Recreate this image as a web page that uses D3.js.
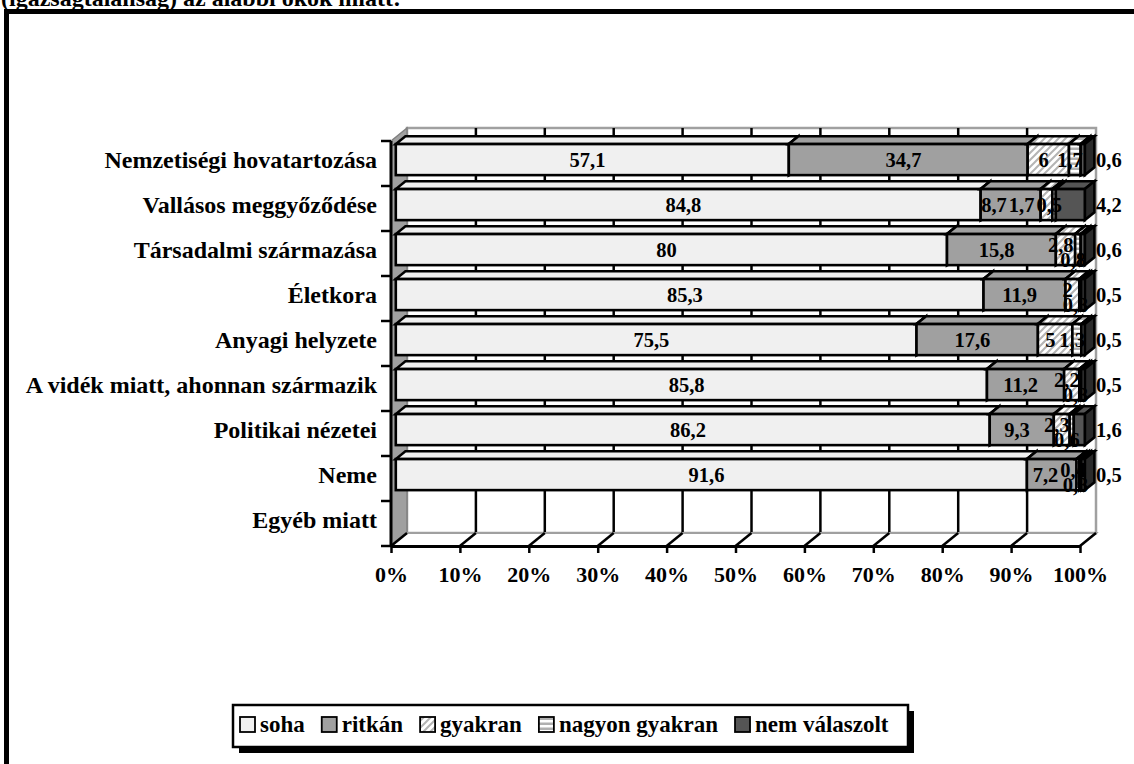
<!DOCTYPE html>
<html>
<head>
<meta charset="utf-8">
<script src="https://cdn.jsdelivr.net/npm/d3@7"></script>
<style>
  body { margin: 0; background: #fff; }
  svg { display: block; font-family: "Times New Roman", "Liberation Serif", serif; font-weight: bold; }
</style>
</head>
<body>
<div id="chart"></div>
<script>
let width  = 1134,
    height = 764;

let title = "(igazságtalanság) az alábbi okok miatt:";

let categories = [
  "Nemzetiségi hovatartozása",
  "Vallásos meggyőződése",
  "Társadalmi származása",
  "Életkora",
  "Anyagi helyzete",
  "A vidék miatt, ahonnan származik",
  "Politikai nézetei",
  "Neme",
  "Egyéb miatt"
];

let seriesNames   = ["soha", "ritkán", "gyakran", "nagyon gyakran", "nem válaszolt"];
let soha          = [57.1, 84.8, 80,   85.3, 75.5, 85.8, 86.2, 91.6, 0];
let ritkan        = [34.7,  8.7, 15.8, 11.9, 17.6, 11.2,  9.3,  7.2, 0];
let gyakran       = [6,     1.7,  2.8,  2,    5,    2.2,  2.3,  0.4, 0];
let nagyonGyakran = [1.7,   0.5,  0.8,  0.3,  1.3,  0.3,  0.6,  0.3, 0];
let nemValaszolt  = [0.6,   4.2,  0.6,  0.5,  0.5,  0.5,  1.6,  0.5, 0];
let tickValues    = [0, .1, .2, .3, .4, .5, .6, .7, .8, .9, 1];

let rows = categories.map(function(c, i) {
  return {
    category: c,
    "soha": soha[i],
    "ritkán": ritkan[i],
    "gyakran": gyakran[i],
    "nagyon gyakran": nagyonGyakran[i],
    "nem válaszolt": nemValaszolt[i]
  };
});

// 3d look: depth of the plot and where the bars sit inside it
let DX = 16, DY = -13, f0 = 0.3, f1 = 0.9;

let x = d3.scaleLinear().domain([0, 1]).range([391, 1080]);
let y = d3.scaleBand().domain(categories).range([141, 546])
          .paddingInner(0.31).paddingOuter(0.155);

let fills = {
  "soha": "#f0f0f0",
  "ritkán": "#a0a0a0",
  "gyakran": "url(#hatch)",
  "nagyon gyakran": "url(#hstripe)",
  "nem válaszolt": "#555555"
};
let sideFills = {
  "soha": "#d4d4d4",
  "ritkán": "#808080",
  "gyakran": "url(#hatch)",
  "nagyon gyakran": "url(#hstripe)",
  "nem válaszolt": "#2a2a2a"
};

let svg = d3.select("#chart").append("svg")
    .attr("width", width)
    .attr("height", height);

let defs = svg.append("defs");
let hatch = defs.append("pattern").attr("id", "hatch")
    .attr("patternUnits", "userSpaceOnUse").attr("width", 7).attr("height", 7);
hatch.append("rect").attr("width", 7).attr("height", 7).attr("fill", "#fff");
hatch.append("path").attr("d", "M-1,8 L8,-1 M-2,2 L2,-2 M5,9 L9,5")
    .attr("stroke", "#b4b4b4").attr("stroke-width", 2);
let hs = defs.append("pattern").attr("id", "hstripe")
    .attr("patternUnits", "userSpaceOnUse").attr("width", 6).attr("height", 5);
hs.append("rect").attr("width", 6).attr("height", 5).attr("fill", "#fff");
hs.append("rect").attr("y", 2.5).attr("width", 6).attr("height", 2.5).attr("fill", "#b0b0b0");

// title (cut by the top of the page)
svg.append("text")
    .attr("x", 1).attr("y", 6)
    .attr("font-size", 24)
    .text(title);

// outer frame
svg.append("rect")
    .attr("x", 6.5).attr("y", 11.5)
    .attr("width", 1300).attr("height", 1000)
    .attr("fill", "none").attr("stroke", "#000").attr("stroke-width", 5);

let y0 = y.range()[0], y1 = y.range()[1];

// back wall
svg.append("rect")
    .attr("x", x(0) + DX).attr("y", y0 + DY)
    .attr("width", x(1) - x(0)).attr("height", y1 - y0)
    .attr("fill", "#fff").attr("stroke", "#a0a0a0").attr("stroke-width", 2.5);

svg.append("g").selectAll("line")
    .data(tickValues.filter(function(t) { return t > 0 && t < 1; }))
    .enter().append("line")
    .attr("x1", function(t) { return x(t) + DX; })
    .attr("x2", function(t) { return x(t) + DX; })
    .attr("y1", y0 + DY).attr("y2", y1 + DY)
    .attr("stroke", "#000").attr("stroke-width", 2.5);

// side wall
svg.append("path")
    .attr("d", d3.line()([[x(0), y0], [x(0) + DX, y0 + DY], [x(0) + DX, y1 + DY], [x(0), y1]]) + "Z")
    .attr("fill", "#a0a0a0").attr("stroke", "#808080").attr("stroke-width", 1.5);

// floor
svg.append("path")
    .attr("d", d3.line()([[x(0), y1], [x(0) + DX, y1 + DY], [x(1) + DX, y1 + DY], [x(1), y1]]) + "Z")
    .attr("fill", "#fff").attr("stroke", "#a0a0a0").attr("stroke-width", 2);

svg.append("g").selectAll("line")
    .data(tickValues)
    .enter().append("line")
    .attr("x1", function(t) { return x(t); })
    .attr("x2", function(t) { return x(t) + DX; })
    .attr("y1", y1).attr("y2", y1 + DY)
    .attr("stroke", "#000").attr("stroke-width", 2.5);

// bars
let stack = d3.stack().keys(seriesNames).offset(d3.stackOffsetExpand);
let series = stack(rows);

let sx = DX * f0, sy = DY * f0,
    ddx = DX * (f1 - f0), ddy = DY * (f1 - f0),
    bw = y.bandwidth();

let segs = [];
categories.forEach(function(c, i) {
  series.forEach(function(s) {
    let d = s[i];
    if (d[1] - d[0] <= 0) return;
    segs.push({ key: s.key, i: i, cat: c, v0: d[0], v1: d[1], raw: d.data[s.key] });
  });
});

let bars = svg.append("g").attr("stroke", "#000").attr("stroke-width", 2.6)
    .attr("stroke-linejoin", "miter");

segs.forEach(function(s) {
  let xa = x(s.v0) + sx, xb = x(s.v1) + sx,
      yt = y(s.cat) + sy, yb = yt + bw;
  bars.append("path")
      .attr("d", d3.line()([[xa, yt], [xb, yt], [xb + ddx, yt + ddy], [xa + ddx, yt + ddy]]) + "Z")
      .attr("fill", fills[s.key]);
  bars.append("path")
      .attr("d", d3.line()([[xb, yt], [xb + ddx, yt + ddy], [xb + ddx, yb + ddy], [xb, yb]]) + "Z")
      .attr("fill", sideFills[s.key]);
  bars.append("rect")
      .attr("x", xa).attr("y", yt)
      .attr("width", xb - xa).attr("height", bw)
      .attr("fill", fills[s.key]);
});

// value labels
let fmt = function(v) { return String(v).replace(".", ","); };

let labels = svg.append("g")
    .attr("font-size", 20.5)
    .selectAll("text")
    .data(segs)
    .enter().append("text")
    .attr("text-anchor", function(s) { return s.key === "nem válaszolt" ? "start" : "middle"; })
    .attr("x", function(s) {
      if (s.key === "nem válaszolt") return x(1) + DX;
      return (x(s.v0) + x(s.v1)) / 2;
    })
    .attr("y", function(s) {
      let c = y(s.cat) + sy + bw / 2;
      let tail = gyakran[s.i] + nagyonGyakran[s.i] + nemValaszolt[s.i];
      s.low = false;
      if (tail < 5 && s.key === "gyakran") c -= 5;
      if (tail < 5 && s.key === "nagyon gyakran") { c += 10; s.low = true; }
      return c;
    })
    .attr("dy", "0.35em")
    .text(function(s) { return fmt(s.raw); });

// push crowded labels of a row to the left so they do not sit on each other
categories.forEach(function(c, i) {
  let row = labels.filter(function(s) { return s.i === i && s.key !== "nem válaszolt" && !s.low; })
                  .nodes().reverse();
  let limit = Infinity;
  row.forEach(function(node) {
    let w = node.getComputedTextLength(),
        cx = +node.getAttribute("x");
    if (cx + w / 2 > limit - 2) cx = limit - 2 - w / 2;
    node.setAttribute("x", cx);
    limit = cx - w / 2;
  });
});

// category axis
let yAxis = svg.append("g")
    .attr("transform", "translate(" + x(0) + ",0)")
    .call(d3.axisLeft(y).tickSize(0).tickPadding(14));
yAxis.attr("font-family", null).attr("font-size", 24);
yAxis.select(".domain").remove();
yAxis.selectAll("text").attr("dy", "0.19em");

svg.append("g").selectAll("line")
    .data(d3.range(categories.length + 1))
    .enter().append("line")
    .attr("x1", x(0) - 10).attr("x2", x(0))
    .attr("y1", function(k) { return y0 + k * y.step(); })
    .attr("y2", function(k) { return y0 + k * y.step(); })
    .attr("stroke", "#000").attr("stroke-width", 2.5);

svg.append("line")
    .attr("x1", x(0)).attr("x2", x(0))
    .attr("y1", y0).attr("y2", y1)
    .attr("stroke", "#000").attr("stroke-width", 3);

// value axis
let xAxis = svg.append("g")
    .attr("transform", "translate(0," + y1 + ")")
    .call(d3.axisBottom(x).tickValues(tickValues).tickFormat(d3.format(".0%"))
            .tickSizeInner(7).tickSizeOuter(0).tickPadding(13));
xAxis.attr("font-family", null).attr("font-size", 22);
xAxis.select(".domain").attr("stroke-width", 3);
xAxis.selectAll(".tick line").attr("stroke-width", 2.5);

// legend
let lg = svg.append("g");
lg.append("rect")
    .attr("x", 239).attr("y", 711).attr("width", 675).attr("height", 42)
    .attr("fill", "#000");
lg.append("rect")
    .attr("x", 233).attr("y", 705).attr("width", 675).attr("height", 42)
    .attr("fill", "#fff").attr("stroke", "#000").attr("stroke-width", 2.5);

let lx = 240;
seriesNames.forEach(function(name) {
  lg.append("rect")
      .attr("x", lx).attr("y", 717).attr("width", 15).attr("height", 15)
      .attr("fill", fills[name]).attr("stroke", "#000").attr("stroke-width", 1.8);
  let t = lg.append("text")
      .attr("x", lx + 20).attr("y", 732)
      .attr("font-size", 23)
      .text(name);
  lx = lx + 20 + t.node().getComputedTextLength() + 17;
});
</script>
</body>
</html>
